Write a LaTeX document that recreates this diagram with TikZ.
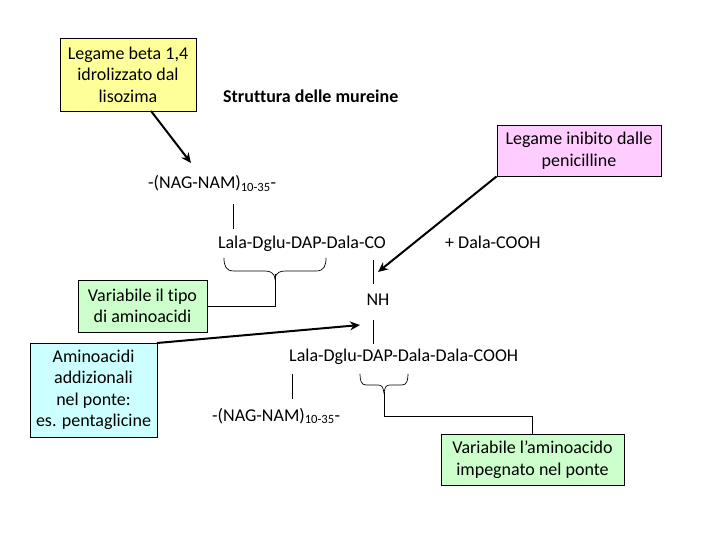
\documentclass[tikz,border=0pt]{standalone}
\usepackage{fontspec}
\setmainfont{Carlito}[Ligatures=CommonOff]
\usetikzlibrary{arrows.meta}
\definecolor{boxyellow}{RGB}{255,255,153}
\definecolor{boxpink}{RGB}{255,204,255}
\definecolor{boxgreen}{RGB}{204,255,204}
\definecolor{boxblue}{RGB}{204,255,255}
\tikzset{
  note/.style={draw=black,line width=0.9pt,align=center,inner sep=0pt,font=\fontsize{18}{21.5}\selectfont},
  chem/.style={inner sep=0pt,font=\fontsize{18}{20}\selectfont},
  bond/.style={draw=black,line width=0.7pt},
  pointer/.style={draw=black,line width=2pt,-{Stealth[length=10pt,width=9pt]}},
  curl/.style={draw=black,line width=0.7pt,line cap=round}
}
\begin{document}
\begin{tikzpicture}[x=1pt,y=-1pt]
\useasboundingbox (0,0) rectangle (720,540);
\fill[white] (0,0) rectangle (720,540);
% boxes
\node[note,fill=boxyellow,minimum width=136pt,minimum height=73pt] (lyso) at (128,74.5) {Legame beta 1,4\\idrolizzato dal\\lisozima};
\node[note,fill=boxpink,minimum width=164pt,minimum height=51pt] (peni) at (579,150.5) {Legame inibito dalle\\penicilline};
\node[note,fill=boxgreen,minimum width=129pt,minimum height=52pt] (tipo) at (142.5,306) {Variabile il tipo\\di aminoacidi};
\node[note,fill=boxblue,minimum width=127pt,minimum height=94pt] (agg) at (93.5,390) {Aminoacidi\\addizionali\\nel ponte:\\es. pentaglicine};
\node[note,fill=boxgreen,minimum width=183pt,minimum height=51pt] (pont) at (532.5,459.5) {Variabile l’aminoacido\\impegnato nel ponte};
% texts
\node[chem,anchor=west,font=\fontsize{18}{20}\selectfont\bfseries] (title) at (223,96) {Struttura delle mureine};
\node[chem,anchor=base west] (nagA) at (148,189) {-(NAG-NAM)\textsubscript{10-35}-};
\node[chem,anchor=base] (lalaA) at (302,248.5) {Lala-Dglu-DAP-Dala-CO};
\node[chem,anchor=base west] (dala) at (445,248.5) {+ Dala-COOH};
\node[chem,anchor=base] (nh) at (378,305.5) {NH};
\node[chem,anchor=base west] (lalaB) at (289,361.5) {Lala-Dglu-DAP-Dala-Dala-COOH};
\node[chem,anchor=base west] (nagB) at (212,421) {-(NAG-NAM)\textsubscript{10-35}-};
% free ends
\coordinate (lysoOut) at (151,111);
\coordinate (lysoTip) at (191,163);
\coordinate (peniTip) at (378,272);
\coordinate (aggOut) at (157,343);
\coordinate (aggTip) at (360,325);
\coordinate (b1a) at (233,204); \coordinate (b1b) at (233,229);
\coordinate (b2a) at (373,260); \coordinate (b2b) at (373,284);
\coordinate (b3a) at (373,320); \coordinate (b3b) at (373,344);
\coordinate (b4a) at (292.5,374); \coordinate (b4b) at (292.5,399);
\coordinate (braceA) at (275,274);
\coordinate (braceB) at (384,392);
% arrows
\draw[pointer] (lysoOut) -- (lysoTip);
\draw[pointer] (peni.south west) -- (peniTip);
\draw[pointer] (aggOut) -- (aggTip);
% bonds
\draw[bond] (b1a) -- (b1b);
\draw[bond] (b2a) -- (b2b);
\draw[bond] (b3a) -- (b3b);
\draw[bond] (b4a) -- (b4b);
% braces
\draw[curl] (224,258) .. controls (224,266) and (226,271) .. (234,271) -- (264,271) .. controls (270,271) and (274,272) .. (275,279) .. controls (276,272) and (280,271) .. (286,271) -- (316,271) .. controls (324,271) and (326,266) .. (326,258);
\draw[curl] (360,374) .. controls (360,380) and (361,385) .. (366,385) -- (378,385) .. controls (382,385) and (383,387) .. (384,393) .. controls (385,387) and (386,385) .. (390,385) -- (402,385) .. controls (407,385) and (408,380) .. (408,374);
% connectors to boxes
\draw[bond] (braceA) |- (tipo.east);
\draw[bond] (braceB) |- (pont.north |- 0,416) -- (pont.north);
\end{tikzpicture}
\end{document}
